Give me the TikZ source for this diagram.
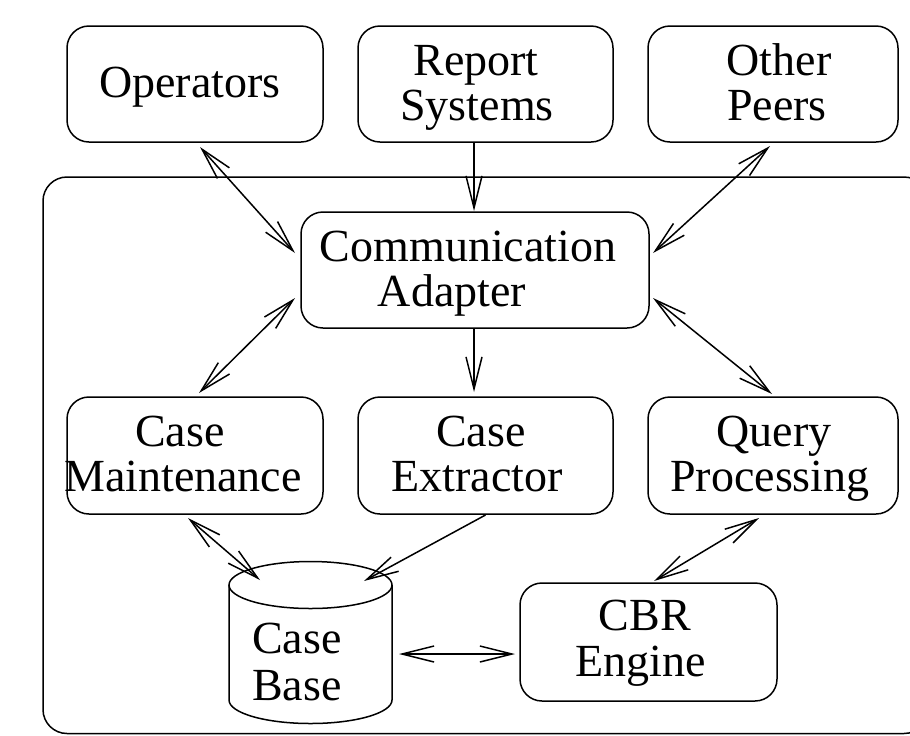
\documentclass[tikz,border=0pt]{standalone}
\usepackage{fontspec}
\setmainfont{Liberation Serif}
\usetikzlibrary{arrows.meta,calc}
\begin{document}
\begin{tikzpicture}[x=0.5pt,y=-0.5pt,
  every node/.style={inner sep=0pt, outer sep=0pt},
  unit/.style={draw, rounded corners=11pt, line width=0.75pt, minimum height=58pt},
  lbl/.style={anchor=base, font=\fontsize{23}{23}\selectfont},
  barb/.tip={Straight Barb[length=16pt,width=8pt]},
  link/.style={line width=0.75pt, -barb},
  dlink/.style={line width=0.75pt, barb-barb}]
\useasboundingbox (0,0) rectangle (910,735);

% enclosing frame of the peer
\draw[line width=0.75pt, rounded corners=12pt] (43,177) rectangle (928,733.5);

% external partners
\node[unit, minimum width=128pt] (op) at (195,84) {};
\node[lbl] (opT) at (190,97) {Operators};
\node[unit, minimum width=127.5pt] (rs) at (485.5,84) {};
\node[lbl] (rsA) at (476,75) {Report};
\node[lbl] (rsB) at (477,120) {Systems};
\node[unit, minimum width=125pt] (pe) at (773,84) {};
\node[lbl] (peA) at (779,75) {Other};
\node[lbl] (peB) at (777,120) {Peers};

% internal components
\node[unit, minimum width=174pt] (ca) at (475,270) {};
\node[lbl] (caA) at (468,261) {Communication};
\node[lbl] (caB) at (452,306) {Adapter};

\node[unit, minimum width=128pt, minimum height=58.5pt] (cm) at (195,455.5) {};
\node[lbl] (cmA) at (180,446) {Case};
\node[lbl] (cmB) at (183,491) {Maintenance};
\node[unit, minimum width=127.5pt, minimum height=58.5pt] (ce) at (485.5,455.5) {};
\node[lbl] (ceA) at (481,446) {Case};
\node[lbl] (ceB) at (477,491) {Extractor};
\node[unit, minimum width=125pt, minimum height=58.5pt] (qp) at (773,455.5) {};
\node[lbl] (qpA) at (774,446) {Query};
\node[lbl] (qpB) at (770,491) {Processing};

\node[unit, minimum width=128.5pt, minimum height=59pt] (cbr) at (648.5,642) {};
\node[lbl] (cbrA) at (645,630) {CBR};
\node[lbl] (cbrB) at (641,676) {Engine};

% case base drawn as a cylinder
\node[minimum width=81.5pt, minimum height=81pt] (cb) at (310.5,642.5) {};
\draw[line width=0.75pt] ($(cb.north west)+(0,23.5)$) -- ($(cb.south west)+(0,-23.5)$)
  arc[start angle=180, end angle=360, x radius=40.75pt, y radius=11.75pt]
  -- ($(cb.north east)+(0,23.5)$);
\draw[line width=0.75pt] ($(cb.north)+(0,23.5)$) ellipse[x radius=40.75pt, y radius=11.75pt];
\node[lbl] (cbA) at (297,653) {Case};
\node[lbl] (cbB) at (297,700) {Base};

% message flows
\draw[dlink] ($(op.south)+(5,5)$) -- ($(ca.west)+(-6,-17)$);
\draw[link] ($(rs.south)+(-11.5,0)$) -- ($(ca.north)+(-1,-1)$);
\draw[dlink] ($(pe.south)+(-3,4)$) -- ($(ca.east)+(4,-17)$);
\draw[dlink] ($(ca.west)+(-6,28)$) -- ($(cm.north)+(4,-4)$);
\draw[link] ($(ca.south)+(-1,0)$) -- ($(ce.north)+(-11.5,-5)$);
\draw[dlink] ($(ca.east)+(4,28)$) -- ($(qp.north)+(-1,-3)$);
\draw[dlink] ($(cm.south)+(-7,4)$) -- ($(cb.north)+(-50.5,18.5)$);
\draw[link] ($(ce.south)+(0,1)$) -- ($(cb.north)+(53.5,19.5)$);
\draw[dlink] ($(cb.east)+(7,11.5)$) -- ($(cbr.west)+(-5,12)$);
\draw[dlink] ($(qp.south)+(-14,4)$) -- ($(cbr.north)+(5.5,-2)$);
\end{tikzpicture}
\end{document}
